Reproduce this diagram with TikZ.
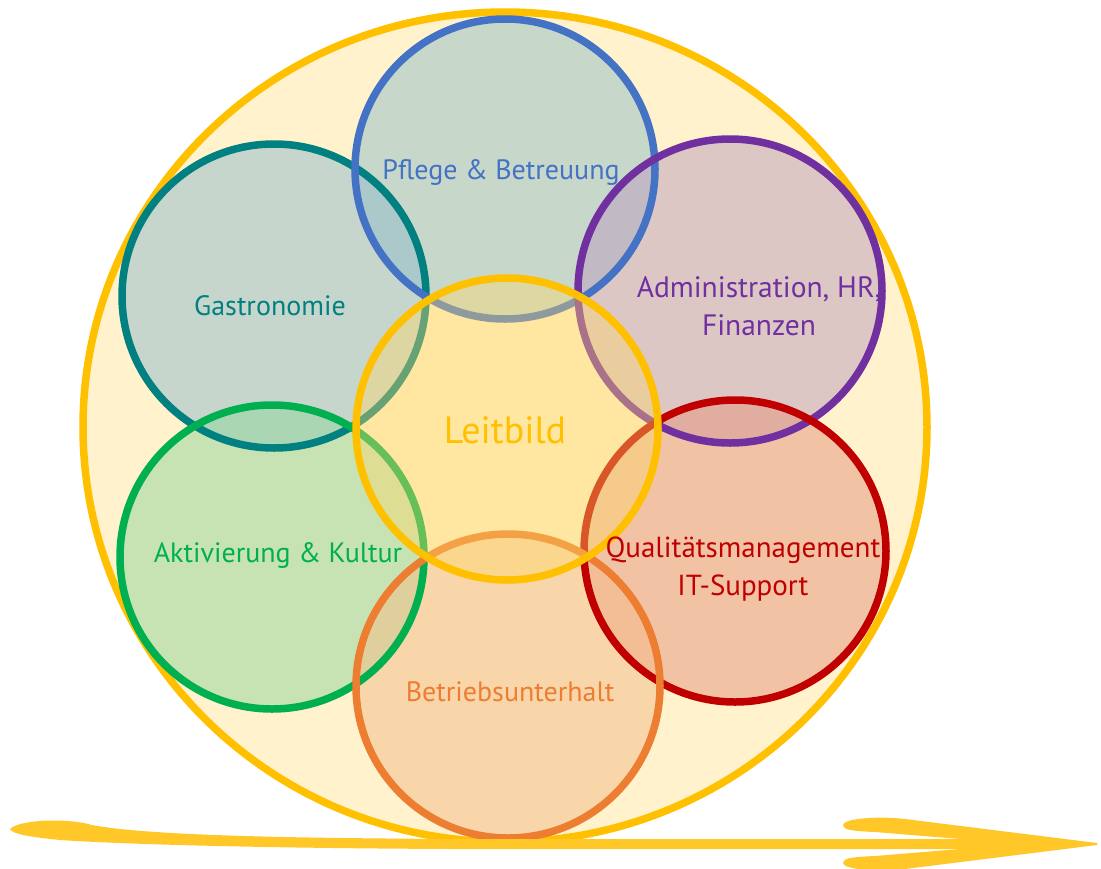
\documentclass[tikz,border=0pt]{standalone}
\usepackage{fontspec}
\setmainfont{PT Sans}
\definecolor{bigY}{RGB}{255,192,0}
\definecolor{bigF}{RGB}{255,242,204}
\definecolor{arrowC}{RGB}{255,200,40}
\definecolor{cBlue}{RGB}{68,114,196}
\definecolor{fBlue}{RGB}{145,190,202}
\definecolor{cTeal}{RGB}{0,128,128}
\definecolor{fTeal}{RGB}{145,188,206}
\definecolor{cPurple}{RGB}{112,48,160}
\definecolor{fPurple}{RGB}{189,158,192}
\definecolor{cGreen}{RGB}{0,176,80}
\definecolor{fGreen}{RGB}{145,214,156}
\definecolor{cRed}{RGB}{192,0,0}
\definecolor{fRed}{RGB}{229,148,126}
\definecolor{cOrange}{RGB}{237,125,49}
\definecolor{fOrange}{RGB}{245,188,136}
\definecolor{fYellow}{RGB}{255,215,100}
\tikzset{
  ring/.style={line width=7.5pt},
  areafill/.style={fill opacity=0.5},
  lbl/.style={font=\fontsize{28}{38}\selectfont, align=center, inner sep=0pt},
}
\begin{document}
\begin{tikzpicture}[x=1pt,y=-1pt]
\useasboundingbox (0,0) rectangle (1101,868);
% centres
\coordinate (cBig) at (505,427);
\coordinate (cP) at (505,169);
\coordinate (cG) at (274,296);
\coordinate (cA) at (730,291);
\coordinate (cK) at (272,557);
\coordinate (cQ) at (735,551);
\coordinate (cB) at (508,686);
\coordinate (cL) at (507,429);
% big circle
\draw[ring, draw=bigY, fill=bigF] (cBig) ellipse [x radius=422pt, y radius=415pt];
% fills of the outer circles
\fill[areafill, fill=fTeal] (cG) circle[radius=152pt];
\fill[areafill, fill=fBlue] (cP) circle[radius=150pt];
\fill[areafill, fill=fPurple] (cA) circle[radius=152pt];
\fill[areafill, fill=fGreen] (cK) circle[radius=152pt];
\fill[areafill, fill=fRed] (cQ) circle[radius=151pt];
\fill[areafill, fill=fOrange] (cB) circle[radius=152pt];
% strokes of the outer circles
\draw[ring, cTeal] (cG) circle[radius=152pt];
\draw[ring, cBlue] (cP) circle[radius=150pt];
\draw[ring, cPurple] (cA) circle[radius=152pt];
\draw[ring, cGreen] (cK) circle[radius=152pt];
\draw[ring, cRed] (cQ) circle[radius=151pt];
\draw[ring, cOrange] (cB) circle[radius=152pt];
% centre circle
\fill[fill=fYellow, fill opacity=0.4] (cL) circle[radius=151pt];
\draw[ring, bigY] (cL) circle[radius=151pt];
% labels
\node[lbl, text=cBlue] (tP) at (501,172) {Pflege \& Betreuung};
\node[lbl, text=cTeal] (tG) at (270,306) {Gastronomie};
\node[lbl, text=cPurple, font=\fontsize{29.5}{38}\selectfont] (tA) at (759,306) {Administration, HR,\\Finanzen};
\node[lbl, text=cGreen] (tK) at (278,555) {Aktivierung \& Kultur};
\node[lbl, text=cRed, font=\fontsize{29}{38}\selectfont] (tQ) at (743,569) {Qualitätsmanagement\\IT-Support};
\node[lbl, text=cOrange] (tB) at (510,692) {Betriebsunterhalt};
\node[lbl, text=bigY, font=\fontsize{38}{40}\selectfont] (tL) at (505,430) {Leitbild};
% bottom arrow
\fill[arrowC] (10,829) .. controls (20,819) and (70,818) .. (92,825)
  .. controls (150,836) and (300,838) .. (450,839) -- (1060,839) -- (1097,844)
  -- (1060,849) -- (450,849) .. controls (250,848) and (120,844) .. (60,840)
  .. controls (30,837) and (12,834) .. (10,829) -- cycle;
\fill[arrowC] (843,825) .. controls (844,818) and (880,816) .. (905,819)
  -- (1097,843) -- (1097,845) -- (960,839) -- (875,832)
  .. controls (852,831) and (843,830) .. (843,825) -- cycle;
\fill[arrowC] (843,863) .. controls (844,870) and (880,872) .. (905,869)
  -- (1097,845) -- (1097,843) -- (960,849) -- (875,856)
  .. controls (852,857) and (843,858) .. (843,863) -- cycle;
\end{tikzpicture}
\end{document}
